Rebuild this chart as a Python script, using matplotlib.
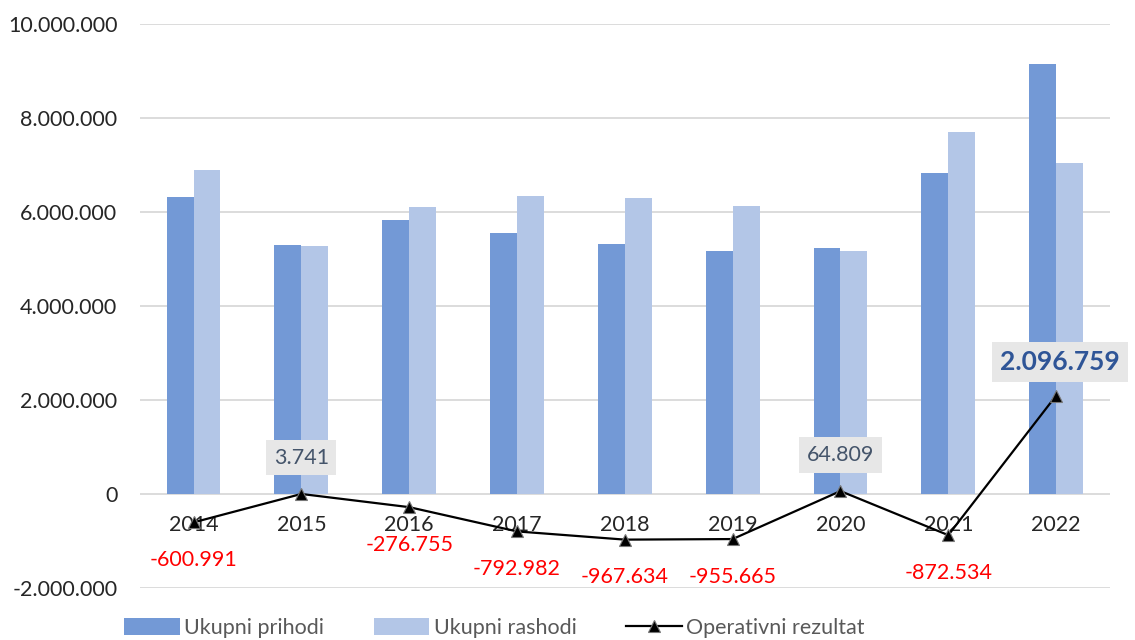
import matplotlib.pyplot as plt
import numpy as np
from matplotlib.ticker import FuncFormatter

plt.rcParams['font.family'] = ['Lato', 'DejaVu Sans']

godine = ['2014', '2015', '2016', '2017', '2018', '2019', '2020', '2021', '2022']
prihodi = [6310000, 5290000, 5830000, 5550000, 5330000, 5170000, 5230000, 6840000, 9140000]
rashodi = [6900000, 5280000, 6110000, 6340000, 6300000, 6120000, 5170000, 7710000, 7040000]
rezultat = [-600991, 3741, -276755, -792982, -967634, -955665, 64809, -872534, 2096759]


def fmt(v, pos=None):
    s = '{:,.0f}'.format(v).replace(',', '.')
    return s


def main():
    fig = plt.figure(figsize=(11.35, 6.4), dpi=100)
    ax = fig.add_axes([0.123, 0.081, 0.855, 0.8815])

    x = np.arange(len(godine))
    w = 0.25
    b1 = ax.bar(x - w/2, prihodi, w, color='#7399D6', label='Ukupni prihodi', zorder=2)
    b2 = ax.bar(x + w/2, rashodi, w, color='#B3C6E7', label='Ukupni rashodi', zorder=2)
    l1, = ax.plot(x, rezultat, color='black', lw=1.6, marker='^', ms=9,
                  mfc='black', mec='#777777', mew=0.8, label='Operativni rezultat', zorder=4)

    ax.set_xlim(-0.5, len(godine) - 0.5)
    ax.set_ylim(-2000000, 10000000)
    ax.set_yticks(np.arange(-2000000, 10000001, 2000000))
    ax.yaxis.set_major_formatter(FuncFormatter(fmt))
    ax.tick_params(axis='y', length=0, labelsize=15.5, labelcolor='#262626', pad=16)
    ax.set_xticks([])
    ax.grid(axis='y', color='#D9D9D9', lw=1.3, zorder=0)
    for s in ax.spines.values():
        s.set_visible(False)

    # godine ispod nule
    for i, g in enumerate(godine):
        ax.annotate(g, (i, 0), xytext=(0, -22), textcoords='offset points',
                    ha='center', va='center', fontsize=15.5, color='#262626', zorder=3)

    # oznake rezultata
    for i, v in enumerate(rezultat):
        if v < 0:
            ax.annotate(fmt(v), (i, v), xytext=(0, -27), textcoords='offset points',
                        ha='center', va='center', fontsize=15.5, color='#FF0000', zorder=5)
        elif v > 1000000:
            ax.annotate(fmt(v), (i, v), xytext=(3, 24), textcoords='offset points',
                        ha='center', va='center', fontsize=19, fontweight='bold',
                        color='#2F5597', zorder=5,
                        bbox=dict(boxstyle='square,pad=0.3', fc='#E7E7E7', ec='none'))
        else:
            ax.annotate(fmt(v), (i, v), xytext=(0, 26), textcoords='offset points',
                        ha='center', va='center', fontsize=15.5, color='#44546A', zorder=5,
                        bbox=dict(boxstyle='square,pad=0.35', fc='#E7E7E7', ec='none'))

    leg = fig.legend([b1, b2, l1], ['Ukupni prihodi', 'Ukupni rashodi', 'Operativni rezultat'],
                     loc='center left', bbox_to_anchor=(0.109, 0.019), ncol=3,
                     frameon=False, fontsize=15.5, handlelength=2.6, handleheight=0.8,
                     columnspacing=2.3, handletextpad=0.2, borderpad=0, borderaxespad=0)
    for t in leg.get_texts():
        t.set_color('#595959')

    fig.savefig('out.png', dpi=100)
    return 0


if __name__ == '__main__':
    main()
